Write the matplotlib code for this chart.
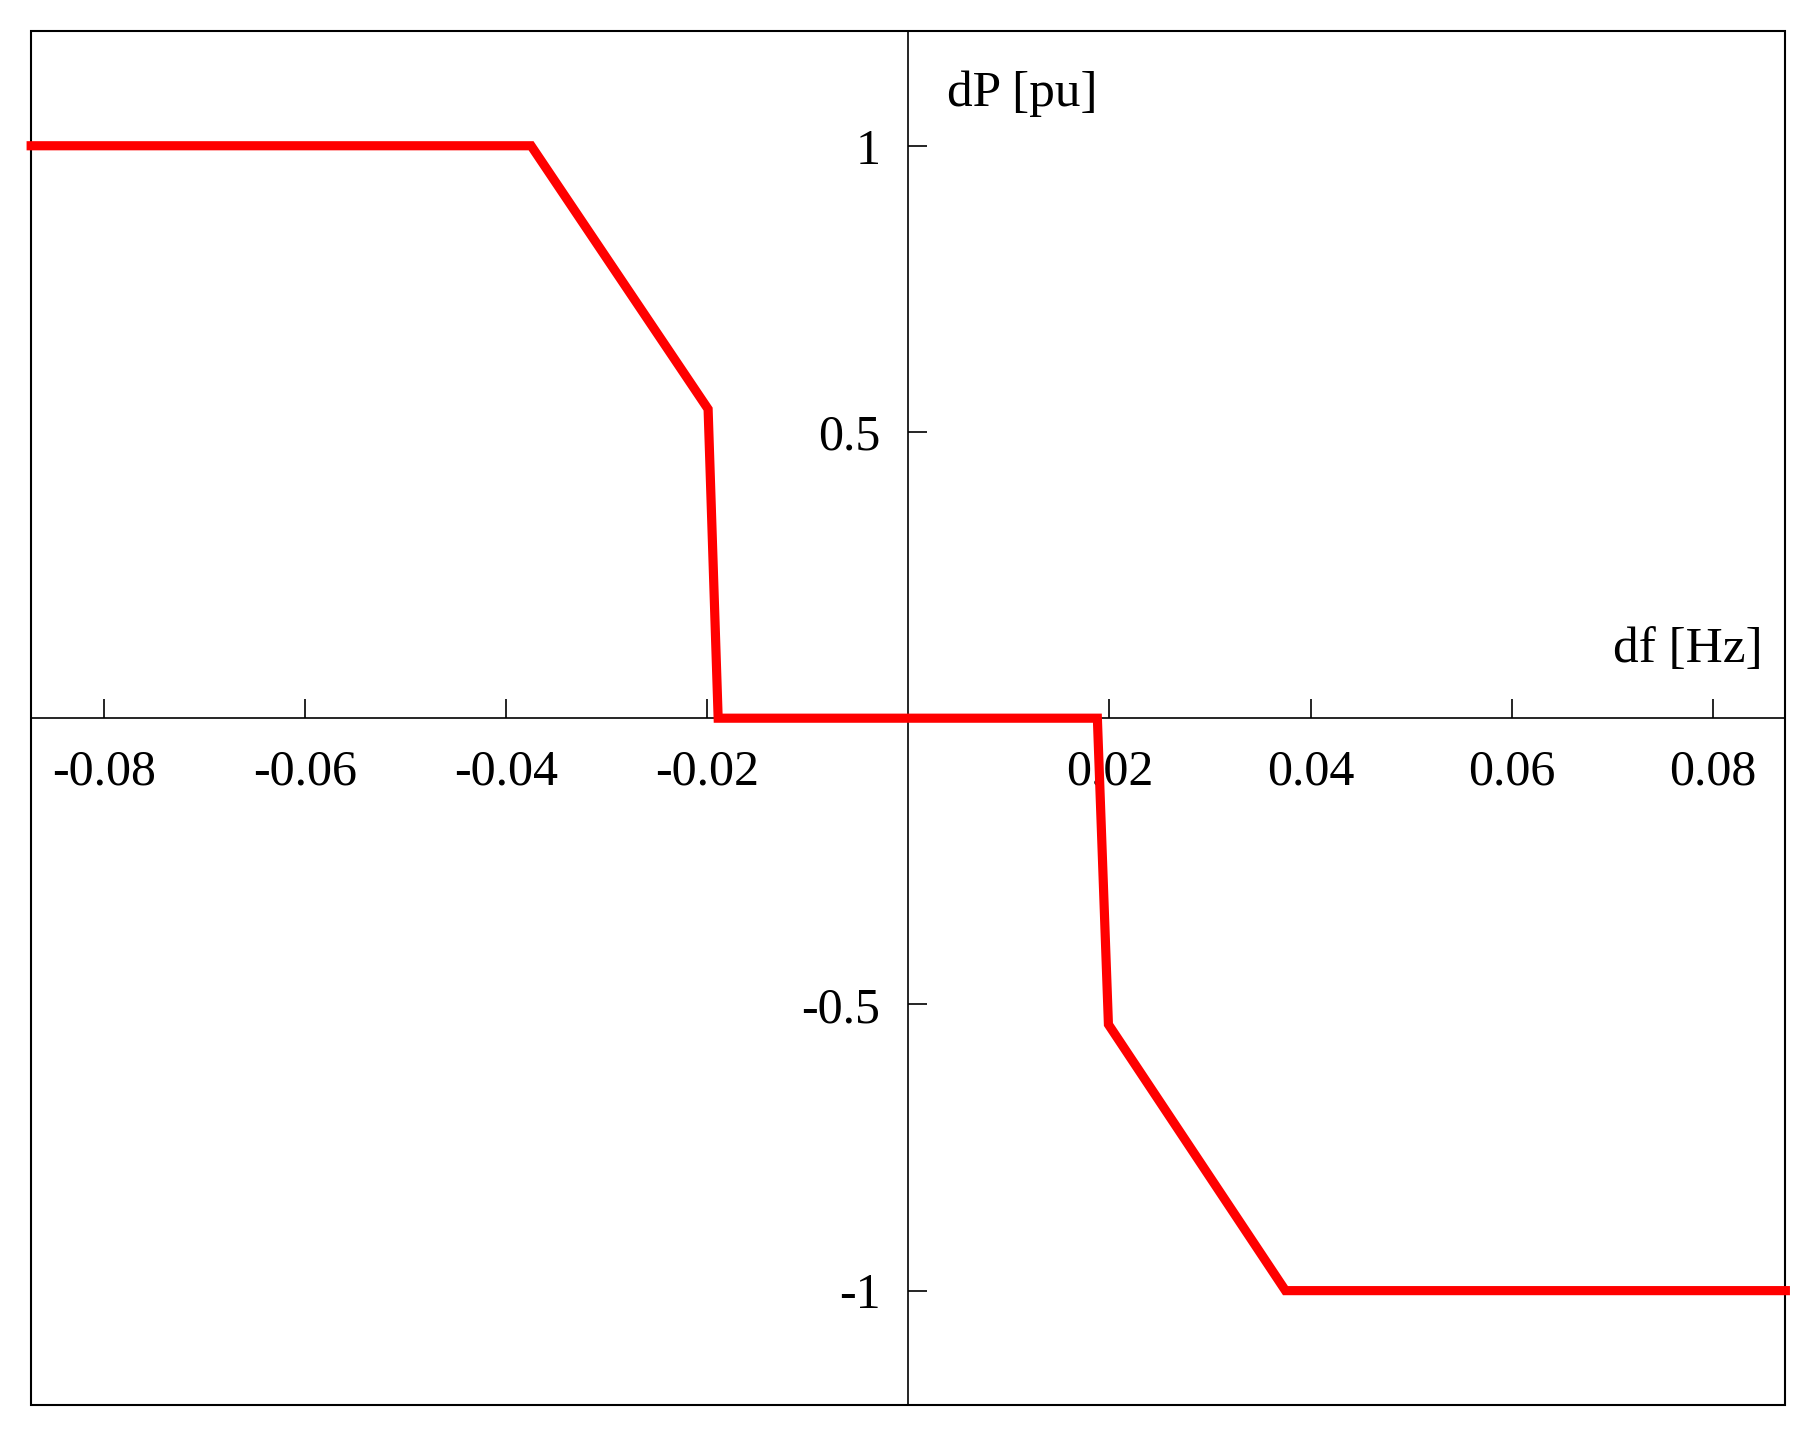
import matplotlib
matplotlib.use("Agg")
import matplotlib.pyplot as plt
from matplotlib.patches import Rectangle

df_hz = [-0.0872, -0.0375, -0.0199, -0.0189, 0.0188, 0.0199, 0.0375, 0.0872]
dp_pu = [1.0, 1.0, 0.54, 0.0, 0.0, -0.535, -1.0, -1.0]
xticks = [-0.08, -0.06, -0.04, -0.02, 0.02, 0.04, 0.06, 0.08]
xticklabels = ["-0.08", "-0.06", "-0.04", "-0.02", "0.02", "0.04", "0.06", "0.08"]
yticks = [-1, -0.5, 0.5, 1]
yticklabels = ["-1", "-0.5", "0.5", "1"]

plt.rcParams['font.family'] = ['Liberation Serif', 'DejaVu Serif']
fig = plt.figure(figsize=(18.12, 14.41), dpi=100)
ax = fig.add_axes([0.0172, 0.0249, 0.9681, 0.9534])
ax.set_xlim(-0.0872, 0.0872)
ax.set_ylim(-1.2, 1.2)
ax.plot(df_hz, dp_pu, color='#ff0000', lw=6.6, solid_joinstyle='miter', clip_on=False, zorder=3)
for s in ['top', 'right']:
    ax.spines[s].set_visible(False)
ax.spines['left'].set_position(('data', 0))
ax.spines['bottom'].set_position(('data', 0))
for s in ['left', 'bottom']:
    ax.spines[s].set_linewidth(1.2)
ax.add_patch(Rectangle((0, 0), 1, 1, transform=ax.transAxes, fill=False, lw=1.5, ec='black', clip_on=False))
ax.set_xticks(xticks)
ax.set_xticklabels(xticklabels)
ax.set_yticks(yticks)
ax.set_yticklabels(yticklabels)
ax.tick_params(axis='x', direction='in', length=14, width=1.2, pad=22, labelsize=36)
ax.tick_params(axis='y', direction='in', length=14, width=1.2, pad=20, labelsize=36)
ax.text(0.0039, 1.09, "dP [pu]", fontsize=37, ha='left', va='center')
ax.text(0.0850, 0.12, "df [Hz]", fontsize=37, ha='right', va='center')
fig.savefig("out.png", dpi=100)
